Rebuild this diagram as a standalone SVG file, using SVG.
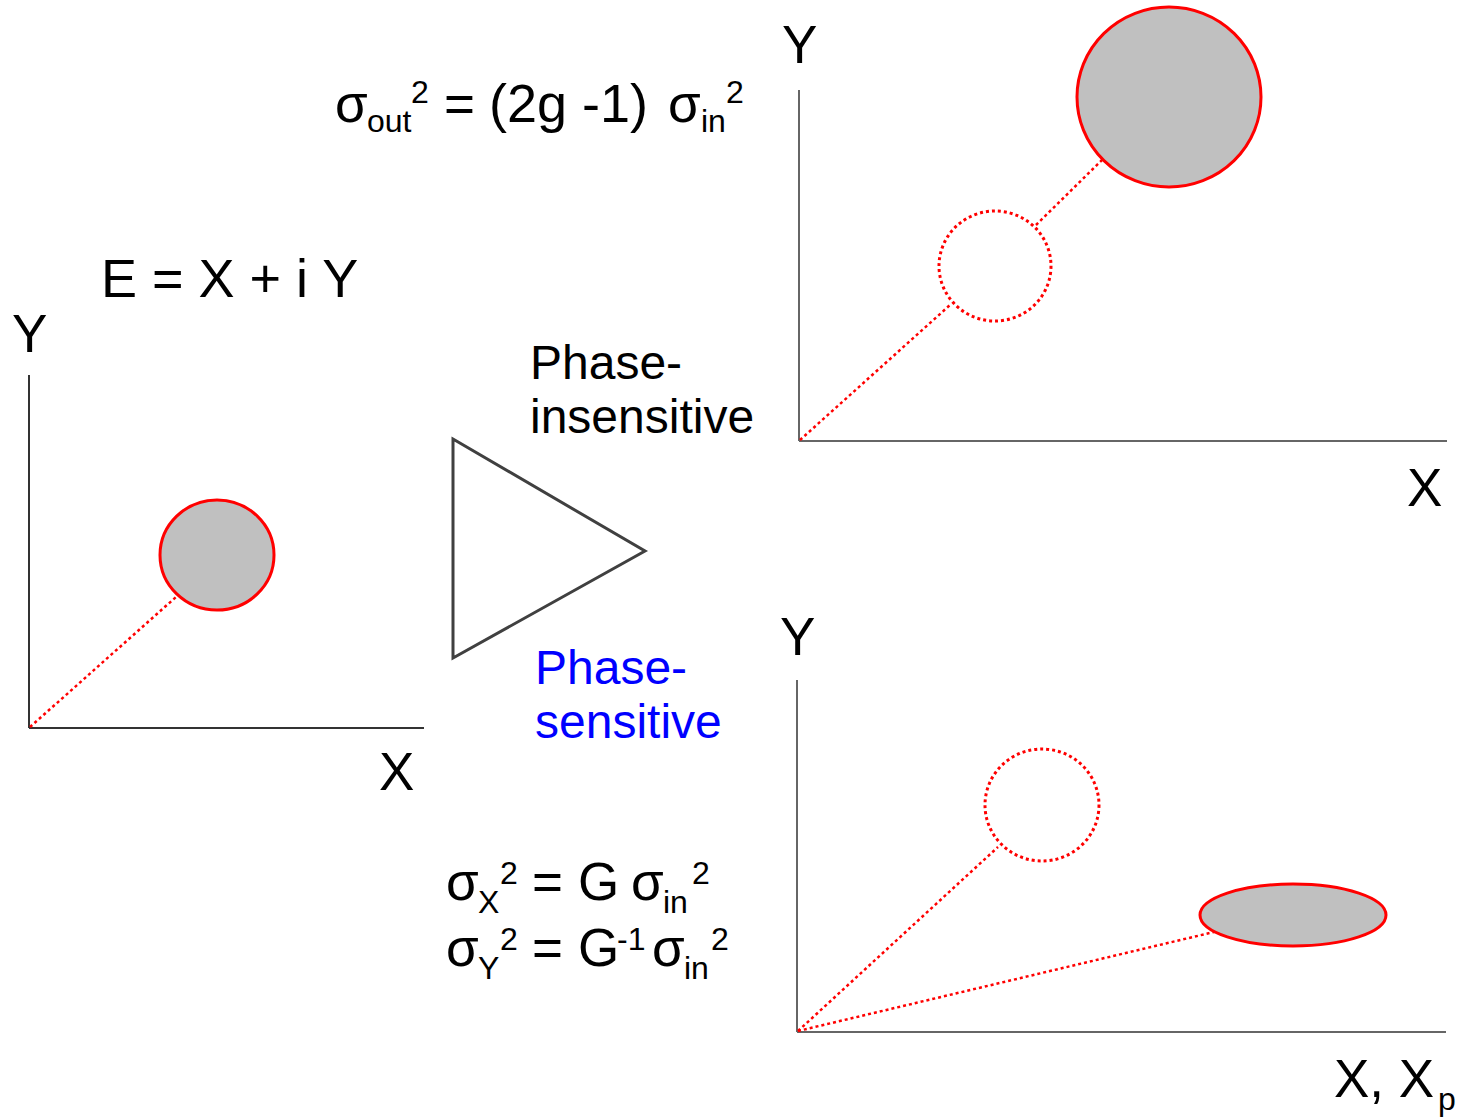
<svg xmlns="http://www.w3.org/2000/svg" width="1459" height="1119" viewBox="0 0 1459 1119">
<style>
text{font-family:"Liberation Sans",Arial,sans-serif;fill:#000}
.big{font-size:53px}
.sm{font-size:32px}
.lbl{font-size:48px}
.axis{stroke:#333;stroke-width:2;fill:none}
.axis2{stroke:#666;stroke-width:2;fill:none}
.blob{fill:#C0C0C0;stroke:#FF0000;stroke-width:3}
.ghost{fill:none;stroke:#FF0000;stroke-width:3;stroke-dasharray:3 3}
.dot{stroke:#FF0000;stroke-width:2.5;stroke-dasharray:3 3;fill:none}
</style>
<rect width="1459" height="1119" fill="#fff"/>

<g id="formula-top">
<text class="big" x="335" y="122">σ</text>
<text class="sm" x="367" y="132">out</text>
<text class="sm" x="411" y="103">2</text>
<text class="big" x="444" y="122">=</text>
<text class="big" x="489" y="122" style="font-size:54px">(2g -1)</text>
<text class="big" x="668" y="122">σ</text>
<text class="sm" x="701" y="132">in</text>
<text class="sm" x="726" y="103">2</text>
</g>

<g id="formula-E">
<text class="big" x="101" y="297" style="font-size:54px">E = X + i Y</text>
</g>

<g id="plot-input">
<line class="axis" x1="29" y1="375" x2="29" y2="728"/>
<line class="axis" x1="29" y1="728" x2="424" y2="728"/>
<text class="big" x="12" y="352">Y</text>
<text class="big" x="379" y="790">X</text>
<ellipse class="blob" cx="217" cy="555" rx="57" ry="55"/>
</g>

<g id="amplifier">
<polygon points="453,439 645,551 453,658" fill="#fff" stroke="#404040" stroke-width="3"/>
<text class="lbl" x="530" y="379">Phase-</text>
<text class="lbl" x="530" y="433">insensitive</text>
<text class="lbl" x="535" y="684" style="fill:#0000FF">Phase-</text>
<text class="lbl" x="535" y="738" style="fill:#0000FF">sensitive</text>
</g>

<g id="plot-insensitive">
<line class="axis2" x1="799" y1="90" x2="799" y2="441"/>
<line class="axis2" x1="799" y1="441" x2="1447" y2="441"/>
<text class="big" x="782" y="63">Y</text>
<text class="big" x="1407" y="506">X</text>
<ellipse class="ghost" cx="995" cy="266" rx="56" ry="55"/>
<ellipse class="blob" cx="1169" cy="97" rx="92" ry="90"/>
</g>

<g id="formula-bottom">
<text class="big" x="446" y="900">σ</text>
<text class="sm" x="478" y="913">X</text>
<text class="sm" x="500" y="884">2</text>
<text class="big" x="532" y="900">=</text>
<text class="big" x="578" y="900">G</text>
<text class="big" x="631" y="900">σ</text>
<text class="sm" x="663" y="913">in</text>
<text class="sm" x="692" y="884">2</text>
<text class="big" x="446" y="966">σ</text>
<text class="sm" x="478" y="979">Y</text>
<text class="sm" x="500" y="950">2</text>
<text class="big" x="532" y="966">=</text>
<text class="big" x="578" y="966">G</text>
<text class="sm" x="617" y="950">-1</text>
<text class="big" x="652" y="966">σ</text>
<text class="sm" x="684" y="979">in</text>
<text class="sm" x="711" y="950">2</text>
</g>

<g id="plot-sensitive">
<line class="axis2" x1="797" y1="680" x2="797" y2="1032"/>
<line class="axis2" x1="797" y1="1032" x2="1446" y2="1032"/>
<text class="big" x="780" y="655">Y</text>
<text class="big" x="1334" y="1097">X, X</text>
<text class="sm" x="1438" y="1110">p</text>
<ellipse class="ghost" cx="1042" cy="805" rx="57" ry="56"/>
<ellipse class="blob" cx="1293" cy="915" rx="93" ry="31"/>
</g>

<g id="connectors">
<line class="dot" x1="30" y1="727" x2="176" y2="597"/>
<line class="dot" x1="800" y1="440" x2="950" y2="305"/>
<line class="dot" x1="1036" y1="225" x2="1103" y2="159"/>
<line class="dot" x1="798" y1="1031" x2="998" y2="847"/>
<line class="dot" x1="798" y1="1031" x2="1214" y2="932"/>
</g>
</svg>
